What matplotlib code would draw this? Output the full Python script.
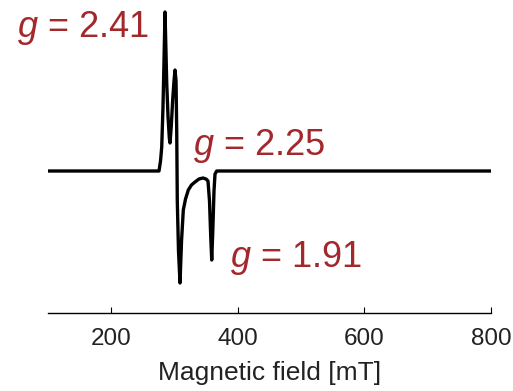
import numpy as np
import matplotlib.pyplot as plt

plt.rcParams['font.family'] = ['Liberation Sans', 'DejaVu Sans']
plt.rcParams['mathtext.fontset'] = 'custom'
plt.rcParams['mathtext.it'] = 'Liberation Sans:italic'
plt.rcParams['mathtext.rm'] = 'Liberation Sans'

# EPR spectrum (field in mT, intensity in arb. units)
field = [100, 275.4, 277.8, 279.7, 281.7, 283.3, 284.9, 287.6, 289.6, 291.7,
         292.8, 294.8, 297.0, 299.1, 300.7, 302.3, 303.4, 304.3, 306.2, 308.6,
         311.0, 313.8, 317.3, 321.7, 326.7, 332.3, 338.6, 344.9, 349.7, 352.8,
         355.2, 357.1, 358.7, 360.4, 362.3, 363.9, 366.6, 800]
signal = [0, 0, 10, 24, 64, 110, 159, 88, 55, 33,
          28, 45, 71, 90, 101, 90, 40, -30, -80, -112,
          -70, -39, -28, -19, -14, -11, -8, -7, -8, -10,
          -30, -65, -89, -60, -20, -3, 0, 0]

labels = ['$g$ = 2.41', '$g$ = 2.25', '$g$ = 1.91']
label_x = [51, 329, 388]
label_y = [134, 16, -96]

fig = plt.figure(figsize=(5.13, 3.91), dpi=100)
ax = fig.add_axes([48 / 513, 1 - 313 / 391, 443 / 513, 305 / 391])

ax.plot(field, signal, color='black', lw=2.4)
for t, x, y in zip(labels, label_x, label_y):
    ax.text(x, y, t, color='#a3282b', fontsize=26, ha='left', va='baseline',
            clip_on=False)

ax.set_xlim(100, 800)
ax.set_ylim(-142, 163)
ax.set_xticks([200, 400, 600, 800])
ax.set_yticks([])
for s in ['top', 'right', 'left']:
    ax.spines[s].set_visible(False)
ax.spines['bottom'].set_linewidth(1.0)
ax.tick_params(axis='x', direction='in', length=4, labelsize=17.5, pad=11,
               labelcolor='#222222')
ax.set_xlabel('Magnetic field [mT]', fontsize=19, labelpad=8, color='#222222')

fig.savefig('out.png', dpi=100)
